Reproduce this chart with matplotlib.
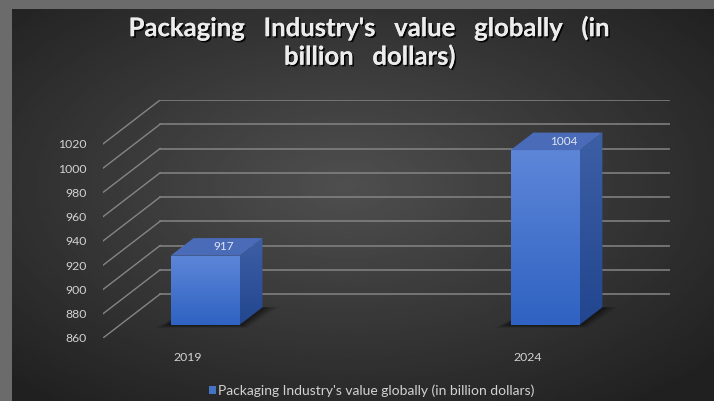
import numpy as np
import matplotlib.pyplot as plt
import matplotlib.patheffects as pe
from matplotlib.patches import Polygon, Patch

# datos
years = ['2019', '2024']
values = [917, 1004]
yticks = [860, 880, 900, 920, 940, 960, 980, 1000, 1020]
title = "Packaging   Industry's   value   globally   (in\nbillion   dollars)"
serie = "Packaging Industry's value globally (in billion dollars)"

W, H = 714, 401
fig = plt.figure(figsize=(W / 100, H / 100), dpi=100)
fig.patch.set_facecolor('#6b6b6b')

# fondo oscuro con degradado radial
bg = fig.add_axes([12 / W, 0, 1 - 12 / W, 1 - 9 / H])
bg.set_axis_off()
gx, gy = np.meshgrid(np.linspace(-1, 1, 300), np.linspace(-1, 1, 200))
r = np.sqrt((gx + 0.05) ** 2 + ((gy + 0.1) * 1.0) ** 2)
bg.imshow(0.31 - 0.13 * np.clip(r, 0, 1.4), cmap='gray', vmin=0, vmax=1,
          extent=[0, 1, 0, 1], aspect='auto', interpolation='bilinear')

# ejes "3d": profundidad oblicua
DX = 0.168      # desplazamiento horizontal de fondo (en categorias)
DY = 36.2       # desplazamiento vertical de fondo (en valores)
d1, d2 = 0.3, 0.7
w = 0.203
x_lo, x_hi = -0.25, 1.25
base = yticks[0]

ax = fig.add_axes([103 / W, (H - 338) / H, (670 - 103) / W, (338 - 100) / H])
ax.patch.set_visible(False)
for s in ax.spines.values():
    s.set_visible(False)

gcol = '#858585'
for t in yticks:
    ax.plot([x_lo, x_lo + DX], [t, t + DY], color=gcol, lw=1.0, zorder=1)
    ax.plot([x_lo + DX, x_hi + DX], [t + DY, t + DY], color=gcol, lw=1.1, zorder=1)


def grad_fill(poly, c_top, c_bot, y0, y1, x0, x1):
    ax.add_patch(poly)
    c_top = np.array(plt.matplotlib.colors.to_rgb(c_top))
    c_bot = np.array(plt.matplotlib.colors.to_rgb(c_bot))
    tt = np.linspace(0, 1, 64)[:, None, None]
    img = c_top * (1 - tt) + c_bot * tt
    img = np.repeat(img, 2, axis=1)
    im = ax.imshow(img, extent=[x0, x1, y0, y1], aspect='auto', origin='upper',
                   zorder=3, interpolation='bilinear')
    im.set_clip_path(poly)


for i, (yr, v) in enumerate(zip(years, values)):
    x0 = i - w / 2 + d1 * DX
    x1 = i + w / 2 + d1 * DX
    b0 = base + d1 * DY
    t0 = v + d1 * DY
    ddx = (d2 - d1) * DX
    ddy = (d2 - d1) * DY

    # sombra en el piso
    for k, a in enumerate([0.10, 0.12, 0.16, 0.22]):
        e = 0.045 - k * 0.01
        ey = 2.5 - k * 0.6
        sh = [(x0 - e, b0 - ey), (x1 + e * 0.5, b0 - ey),
              (x1 + ddx + e, b0 + ddy), (x0 + ddx, b0 + ddy)]
        ax.add_patch(Polygon(sh, closed=True, color='black', alpha=a, lw=0, zorder=2))

    front = Polygon([(x0, b0), (x1, b0), (x1, t0), (x0, t0)], closed=True,
                    facecolor='none', edgecolor='none', zorder=3)
    grad_fill(front, '#5d86d8', '#2f62c2', b0, t0, x0, x1)

    side = Polygon([(x1, b0), (x1 + ddx, b0 + ddy), (x1 + ddx, t0 + ddy), (x1, t0)],
                   closed=True, facecolor='none', edgecolor='none', zorder=3)
    grad_fill(side, '#3d5fa6', '#22468f', b0, t0 + ddy, x1, x1 + ddx)

    top = Polygon([(x0, t0), (x1, t0), (x1 + ddx, t0 + ddy), (x0 + ddx, t0 + ddy)],
                  closed=True, facecolor='#4a6bb8', edgecolor='none', zorder=4)
    ax.add_patch(top)

    ax.text(i + 0.02 + 0.5 * (d1 + d2) * DX, v + 0.5 * (d1 + d2) * DY, str(v),
            ha='center', va='center', fontsize=8.5, color='#dfe6f3',
            family='Lato', zorder=5)

ax.set_xlim(x_lo, x_hi + DX)
ax.set_ylim(base, yticks[-1] + DY)
ax.set_yticks(yticks)
ax.set_yticklabels([str(t) for t in yticks])
ax.set_xticks(range(len(years)))
ax.set_xticklabels(years)
ax.tick_params(length=0, colors='#d2d2d2', labelsize=8.8)
ax.tick_params(axis='y', pad=12)
ax.tick_params(axis='x', pad=10)
for lb in ax.get_xticklabels() + ax.get_yticklabels():
    lb.set_family('Lato')

fig.text(370 / W, 1 - 42 / H, title, ha='center', va='center', fontsize=18.5,
         fontweight='bold', family='Lato', color='#ececec', linespacing=1.15,
         path_effects=[pe.withSimplePatchShadow(offset=(1.2, -1.2), shadow_rgbFace='black',
                                                alpha=0.9), pe.Normal()])

leg = fig.legend(handles=[Patch(facecolor='#4472c4')], labels=[serie],
                 loc='center', bbox_to_anchor=(372 / W, 1 - 391 / H), frameon=False,
                 handlelength=0.5, handleheight=0.5, handletextpad=0.15,
                 prop={'family': 'Lato', 'size': 10})
for tx in leg.get_texts():
    tx.set_color('#d2d2d2')

fig.savefig('out.png', dpi=100, facecolor=fig.get_facecolor())
